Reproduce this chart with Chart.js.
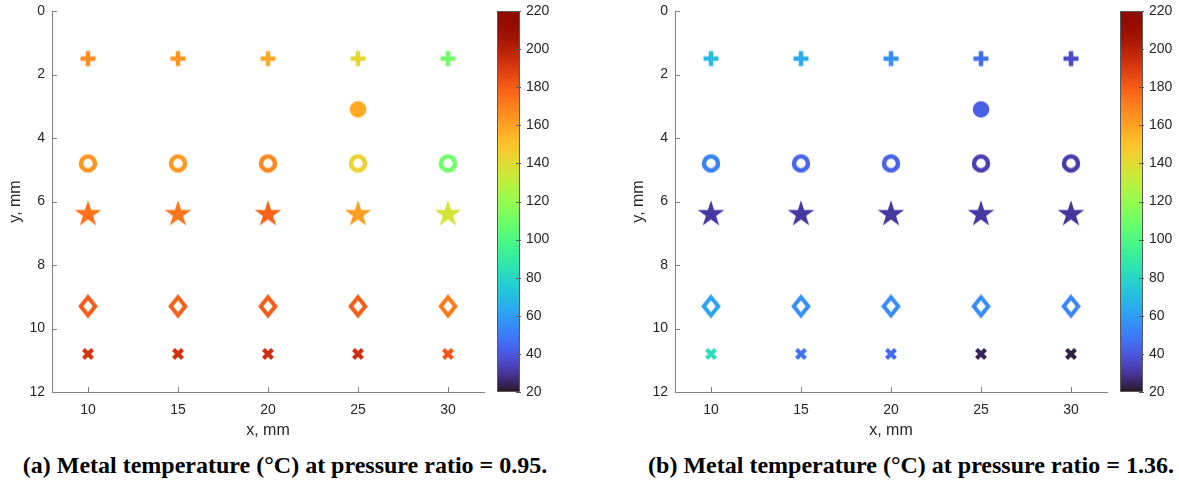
<!DOCTYPE html>
<html>
<head>
<meta charset="utf-8">
<script src="https://cdn.jsdelivr.net/npm/chart.js@4.4.1/dist/chart.umd.min.js"></script>
<style>
body { margin:0; background:#fff; width:1179px; height:491px; position:relative; overflow:hidden; }
.panel { position:absolute; top:0; width:556px; height:440px; }
.cap { position:absolute; top:452px; line-height:28px; font:bold 24px "Liberation Serif","Times New Roman",serif; color:#000; white-space:nowrap; transform:translateX(-50%); }
</style>
</head>
<body>
<div class="panel" style="left:0"><canvas id="chartA"></canvas></div>
<div class="panel" style="left:623px"><canvas id="chartB"></canvas></div>
<div class="cap" style="left:285px">(a) Metal temperature (°C) at pressure ratio = 0.95.</div>
<div class="cap" style="left:911px">(b) Metal temperature (°C) at pressure ratio = 1.36.</div>
<script>
// probe positions
var xPos = [10, 15, 20, 25, 30];
var xDot = [25];
var yPlus = 1.5, yDot = 3.1, yRing = 4.8, yStar = 6.4, yDiamond = 9.3, yCross = 10.8;

var xTicks = [10, 15, 20, 25, 30];
var yTicks = [0, 2, 4, 6, 8, 10, 12];
var cbTicks = [20, 40, 60, 80, 100, 120, 140, 160, 180, 200, 220];

// (a) pressure ratio 0.95, metal temperature degC
var plusA    = [166, 164, 158, 142, 110];
var dotA     = [158];
var ringA    = [164, 163, 168, 144, 110];
var starA    = [174, 173, 178, 162, 136];
var diamondA = [180, 179, 180, 180, 172];
var crossA   = [192, 193, 194, 194, 182];

// (b) pressure ratio 1.36
var plusB    = [70, 64, 56, 46, 36];
var dotB     = [42];
var ringB    = [52, 44, 43, 33, 32];
var starB    = [31, 31, 31, 31, 30];
var diamondB = [62, 56, 55, 55, 53];
var crossB   = [84, 48, 45, 24, 23];

var cMin = 20, cMax = 220;
var FONT = '"Liberation Sans", Arial, Helvetica, sans-serif';

function turbo(t) {
  t = Math.max(0, Math.min(1, t));
  var r = 0.13572138 + t*(4.61539260 + t*(-42.66032258 + t*(132.13108234 + t*(-152.94239396 + t*59.28637943))));
  var g = 0.09140261 + t*(2.19418839 + t*(4.84296658 + t*(-14.18503333 + t*(4.27729857 + t*2.82956604))));
  var b = 0.10667330 + t*(12.64194608 + t*(-60.58204836 + t*(110.36276771 + t*(-89.90310912 + t*27.34824973))));
  function c(v) { return Math.round(255 * Math.max(0, Math.min(1, v))); }
  return 'rgb(' + c(r) + ',' + c(g) + ',' + c(b) + ')';
}
function colorOf(v) { return turbo((v - cMin) / (cMax - cMin)); }

var cache = {};
function marker(shape, v) {
  var key = shape + v;
  if (cache[key]) return cache[key];
  var cv = document.createElement('canvas');
  cv.width = 32; cv.height = 32;
  var g = cv.getContext('2d');
  var c = 16, col = colorOf(v);
  g.fillStyle = col; g.strokeStyle = col;
  if (shape == 'plus') {
    g.fillRect(c - 7.5, c - 2.25, 15, 4.5);
    g.fillRect(c - 2.25, c - 7.5, 4.5, 15);
  } else if (shape == 'cross') {
    g.lineWidth = 4.2;
    g.beginPath();
    g.moveTo(c - 4.5, c - 4.5); g.lineTo(c + 4.5, c + 4.5);
    g.moveTo(c + 4.5, c - 4.5); g.lineTo(c - 4.5, c + 4.5);
    g.stroke();
  } else if (shape == 'ring') {
    g.lineWidth = 4.5;
    g.beginPath(); g.arc(c, c, 7, 0, Math.PI * 2); g.stroke();
  } else if (shape == 'dot') {
    g.beginPath(); g.arc(c, c, 8.3, 0, Math.PI * 2); g.fill();
  } else if (shape == 'star') {
    var R = 14, r = R * 0.382;
    g.beginPath();
    for (var i = 0; i < 10; i++) {
      var a = -Math.PI / 2 + i * Math.PI / 5;
      var rr = i % 2 ? r : R;
      var px = c + rr * Math.cos(a), py = c + rr * Math.sin(a);
      if (i == 0) g.moveTo(px, py); else g.lineTo(px, py);
    }
    g.closePath(); g.fill();
  } else if (shape == 'diamond') {
    g.lineWidth = 4; g.lineJoin = 'miter';
    g.beginPath();
    g.moveTo(c, c - 9); g.lineTo(c + 7.3, c); g.lineTo(c, c + 9); g.lineTo(c - 7.3, c);
    g.closePath(); g.stroke();
  }
  cache[key] = cv;
  return cv;
}

function row(xs, y, temps, shape) {
  var pts = [];
  for (var i = 0; i < xs.length; i++) pts.push({x: xs[i], y: y, t: temps[i]});
  return {
    data: pts,
    showLine: false,
    pointRadius: 10,
    pointStyle: function(ctx) { return ctx.raw ? marker(shape, ctx.raw.t) : 'circle'; }
  };
}

var matlabAxes = {
  id: 'matlabAxes',
  afterDraw: function(chart) {
    var ctx = chart.ctx, sx = chart.scales.x, sy = chart.scales.y, cb = chart.scales.cb;
    var a = chart.chartArea;
    ctx.save();
    ctx.strokeStyle = '#808080'; ctx.lineWidth = 1;
    ctx.beginPath();
    xTicks.forEach(function(v) {
      var px = Math.round(sx.getPixelForValue(v)) + 0.5;
      ctx.moveTo(px, a.bottom); ctx.lineTo(px, a.bottom - 5);
    });
    yTicks.forEach(function(v) {
      var py = Math.round(sy.getPixelForValue(v)) + 0.5;
      ctx.moveTo(a.left, py); ctx.lineTo(a.left + 5, py);
    });
    ctx.stroke();
    // colorbar
    var left = Math.round(cb.left + 13), w = 23;
    var top = Math.round(cb.top), bot = Math.round(cb.bottom);
    for (var y = top; y < bot; y++) {
      ctx.fillStyle = colorOf(cb.getValueForPixel(y + 0.5));
      ctx.fillRect(left, y, w, 1);
    }
    ctx.strokeStyle = '#5a5a5a';
    ctx.strokeRect(left + 0.5, top + 0.5, w - 1, bot - top - 1);
    ctx.beginPath();
    cbTicks.forEach(function(v) {
      var py = Math.round(cb.getPixelForValue(v)) + 0.5;
      ctx.moveTo(left + w - 4, py); ctx.lineTo(left + w + 1, py);
    });
    ctx.stroke();
    ctx.restore();
  }
};

function noPad(s) { s.paddingTop = 0; s.paddingBottom = 0; s.paddingLeft = 0; s.paddingRight = 0; }

function makeChart(id, plus, dot, ring, star, diamond, cross) {
  var tickFont = {family: FONT, size: 14};
  var titleFont = {family: FONT, size: 16};
  return new Chart(document.getElementById(id), {
    type: 'scatter',
    data: {
      datasets: [
        row(xPos, yPlus, plus, 'plus'),
        row(xDot, yDot, dot, 'dot'),
        row(xPos, yRing, ring, 'ring'),
        row(xPos, yStar, star, 'star'),
        row(xPos, yDiamond, diamond, 'diamond'),
        row(xPos, yCross, cross, 'cross')
      ]
    },
    options: {
      responsive: true,
      maintainAspectRatio: false,
      animation: false,
      layout: {padding: {top: 10, left: 0, right: 0, bottom: 0}},
      plugins: {legend: {display: false}, tooltip: {enabled: false}},
      scales: {
        x: {
          type: 'linear', min: 8, max: 32,
          afterBuildTicks: function(s) { s.ticks = xTicks.map(function(v) { return {value: v}; }); },
          afterFit: function(s) { s.height = 48; noPad(s); },
          grid: {display: false, drawTicks: false},
          border: {display: true, color: '#808080', width: 1},
          ticks: {color: '#262626', font: tickFont, padding: 10, maxRotation: 0},
          title: {display: true, text: 'x, mm', color: '#262626', font: titleFont, padding: {top: 0, bottom: 0}}
        },
        y: {
          type: 'linear', position: 'left', reverse: true, min: 0, max: 12,
          afterBuildTicks: function(s) { s.ticks = yTicks.map(function(v) { return {value: v}; }); },
          afterFit: function(s) { s.width = 52; noPad(s); },
          grid: {display: false, drawTicks: false},
          border: {display: true, color: '#808080', width: 1},
          ticks: {color: '#262626', font: tickFont, padding: 7},
          title: {display: true, text: 'y, mm', color: '#262626', font: titleFont, padding: {top: 6, bottom: 0}}
        },
        cb: {
          type: 'linear', position: 'right', min: cMin, max: cMax,
          afterBuildTicks: function(s) { s.ticks = cbTicks.map(function(v) { return {value: v}; }); },
          afterFit: function(s) { s.width = 72; noPad(s); },
          grid: {display: false, drawTicks: false},
          border: {display: false},
          ticks: {color: '#262626', font: tickFont, padding: 42}
        }
      }
    },
    plugins: [matlabAxes]
  });
}

makeChart('chartA', plusA, dotA, ringA, starA, diamondA, crossA);
makeChart('chartB', plusB, dotB, ringB, starB, diamondB, crossB);
</script>
</body>
</html>
